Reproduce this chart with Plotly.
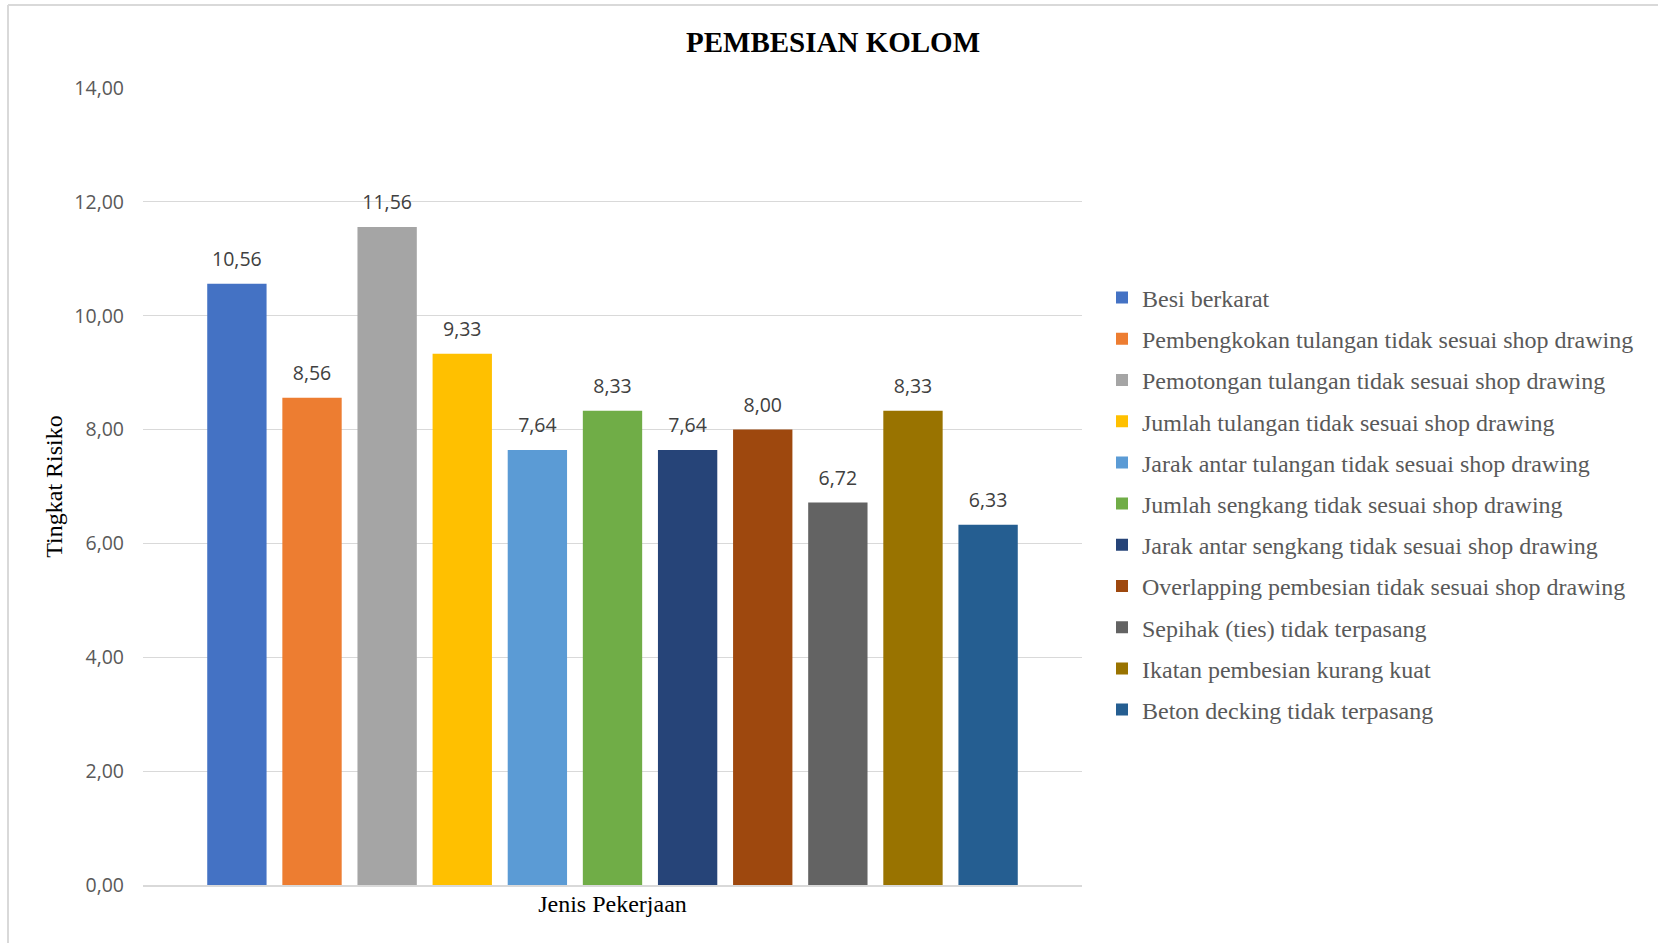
import plotly.graph_objects as go

categories = ["Jenis Pekerjaan"]
series_names = [
    "Besi berkarat",
    "Pembengkokan tulangan tidak sesuai shop drawing",
    "Pemotongan tulangan tidak sesuai shop drawing",
    "Jumlah tulangan tidak sesuai shop drawing",
    "Jarak antar tulangan tidak sesuai shop drawing",
    "Jumlah sengkang tidak sesuai shop drawing",
    "Jarak antar sengkang tidak sesuai shop drawing",
    "Overlapping pembesian tidak sesuai shop drawing",
    "Sepihak (ties) tidak terpasang",
    "Ikatan pembesian kurang kuat",
    "Beton decking tidak terpasang",
]
series_values = [10.56, 8.56, 11.56, 9.33, 7.64, 8.33, 7.64, 8.00, 6.72, 8.33, 6.33]
series_colors = ["#4472C4", "#ED7D31", "#A5A5A5", "#FFC000", "#5B9BD5", "#70AD47",
                 "#264478", "#9E480E", "#636363", "#997300", "#255E91"]
y_ticks = [0, 2, 4, 6, 8, 10, 12, 14]

W, H = 1658, 943
L, R, T, B = 143, 576, 88, 58
pw, ph = W - L - R, H - T - B

fig = go.Figure()
for i, (name, val, col) in enumerate(zip(series_names, series_values, series_colors)):
    fig.add_trace(go.Bar(
        x=categories, y=[val], name=name, marker_color=col,
        marker_line_width=0, legendgroup=f"g{i}",
        texttemplate="<span style='font-size:19.5px'>%{y:.2f}</span><br> ",
        textposition="outside", cliponaxis=False,
        textfont=dict(family="Open Sans", size=9, color="#404040"),
    ))

def px_x(p):
    return (p - L) / pw

def px_y(p):
    return (H - B - p) / ph

fig.update_layout(
    width=W, height=H,
    margin=dict(l=L, r=R, t=T, b=B, autoexpand=False),
    paper_bgcolor="white", plot_bgcolor="white",
    barmode="group", bargap=0.12, bargroupgap=0.21,
    separators=", ",
    title=dict(text="<b>PEMBESIAN KOLOM</b>", xref="container", x=833 / W,
               xanchor="center", yref="container", y=1 - 42 / H, yanchor="middle",
               font=dict(family="Liberation Serif", size=29, color="black")),
    legend=dict(x=px_x(1102), xanchor="left", y=px_y(504), yanchor="middle",
                font=dict(family="Liberation Serif", size=24, color="#595959"),
                tracegroupgap=7, bgcolor="rgba(0,0,0,0)"),
    showlegend=True,
    shapes=[
        dict(type="line", xref="paper", yref="paper", x0=px_x(8), x1=px_x(W + 5),
             y0=px_y(5), y1=px_y(5), line=dict(color="#D9D9D9", width=2)),
        dict(type="line", xref="paper", yref="paper", x0=px_x(8), x1=px_x(8),
             y0=px_y(5), y1=px_y(H + 5), line=dict(color="#D9D9D9", width=2)),
    ],
)
fig.update_yaxes(
    range=[0, 14], tickvals=y_ticks, tickformat=".2f",
    showgrid=True, gridcolor="#D9D9D9", gridwidth=1,
    zeroline=False, showline=False, ticks="",
    ticklabelstandoff=18,
    tickfont=dict(family="Open Sans", size=19.5, color="#595959"),
    title=dict(text="Tingkat Risiko", standoff=4,
               font=dict(family="Liberation Serif", size=24, color="black")),
)
fig.update_xaxes(
    showgrid=False, showline=True, linecolor="#D9D9D9", linewidth=1.5,
    ticks="", ticklabelstandoff=-4,
    tickfont=dict(family="Liberation Serif", size=24, color="black"),
)
fig.write_html("out.html", config={"displayModeBar": False},
               post_script="document.body.style.margin='0px';")
